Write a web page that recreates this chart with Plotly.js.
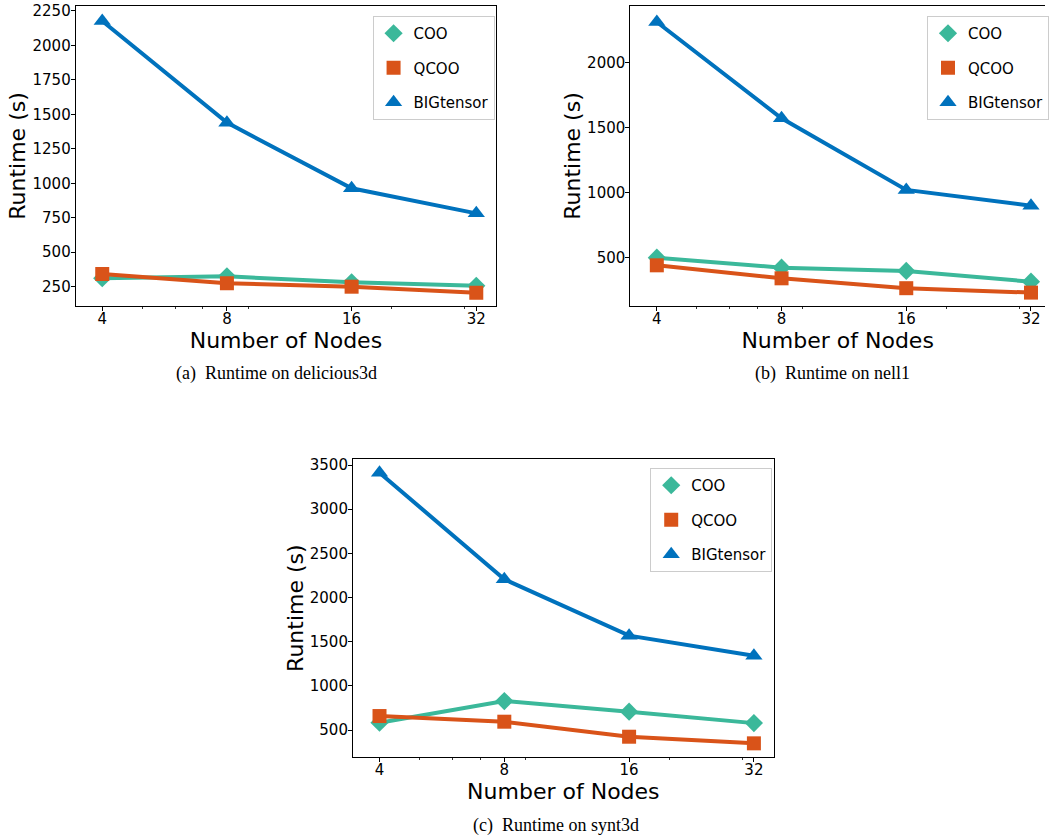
<!DOCTYPE html>
<html>
<head>
<meta charset="utf-8">
<script src="https://cdn.plot.ly/plotly-3.0.1.min.js"></script>
<style>html,body{margin:0;padding:0;background:#fff;}#chart{width:1049px;height:839px;}</style>
</head>
<body>
<div id="chart"></div>
<script>
// ---- data ----
const nodes = [4, 8, 16, 32];
const nodeLabels = ['4', '8', '16', '32'];
const seriesNames = ['COO', 'QCOO', 'BIGtensor'];

const delicious_coo  = [312, 325, 282, 257];
const delicious_qcoo = [342, 275, 250, 206];
const delicious_big  = [2177, 1440, 964, 782];

const nell_coo  = [497, 420, 395, 312];
const nell_qcoo = [438, 338, 262, 228];
const nell_big  = [2310, 1569, 1018, 897];

const synt_coo  = [583, 828, 707, 578];
const synt_qcoo = [658, 594, 424, 349];
const synt_big  = [3413, 2206, 1568, 1341];

const captions = ['(a)\u2002Runtime on delicious3d', '(b)\u2002Runtime on nell1', '(c)\u2002Runtime on synt3d'];

// ---- styling ----
const colors = ['#3bb89a', '#d95319', '#0072bd'];
const symbols = ['diamond', 'square', 'triangle-up'];
const sizes = [14, 14, 15];
const W = 1049, H = 839;
const font = 'DejaVu Sans, sans-serif';

const panels = [
  {data: [delicious_coo, delicious_qcoo, delicious_big], xa: 'x', ya: 'y', leg: 'legend'},
  {data: [nell_coo, nell_qcoo, nell_big], xa: 'x2', ya: 'y2', leg: 'legend2'},
  {data: [synt_coo, synt_qcoo, synt_big], xa: 'x3', ya: 'y3', leg: 'legend3'}
];

const traces = [];
panels.forEach((p, pi) => {
  p.data.forEach((vals, si) => {
    traces.push({
      x: nodes, y: vals, xaxis: p.xa, yaxis: p.ya,
      mode: 'lines+markers', showlegend: false, cliponaxis: false,
      line: {color: colors[si], width: 4},
      marker: {color: colors[si], symbol: symbols[si], size: sizes[si]},
      hoverinfo: 'x+y'
    });
  });
  seriesNames.forEach((nm, si) => {
    traces.push({
      x: [null], y: [null], xaxis: p.xa, yaxis: p.ya,
      mode: 'markers', name: nm, legend: p.leg, legendgroup: p.leg + nm,
      marker: {color: colors[si], symbol: symbols[si], size: sizes[si]},
      showlegend: true
    });
  });
});

function px2x(px) { return px / W; }
function px2y(py) { return 1 - py / H; }

function xaxis(domain, range) {
  return {
    domain: domain, type: 'log', range: range,
    tickmode: 'array', tickvals: nodes, ticktext: nodeLabels,
    ticks: 'outside', ticklen: 4, tickwidth: 1, tickcolor: '#000',
    ticklabelstandoff: -5,
    minor: {tickmode: 'array', tickvals: [5, 6, 7, 9, 20, 30], ticks: 'outside', ticklen: 2, tickwidth: 0.8, tickcolor: '#000', showgrid: false},
    showline: true, linecolor: '#000', linewidth: 1, mirror: true,
    showgrid: false, zeroline: false,
    tickfont: {family: font, size: 15, color: '#000'},
    title: {text: 'Number of Nodes', font: {family: font, size: 22, color: '#000'}, standoff: 2}
  };
}
function yaxis(domain, range, dtick, tick0, mirror) {
  return {
    domain: domain, range: range, dtick: dtick, tick0: tick0, tickmode: 'linear',
    ticks: 'outside', ticklen: 4, tickwidth: 1, tickcolor: '#000',
    ticklabelstandoff: -3,
    showline: true, linecolor: '#000', linewidth: 1, mirror: mirror,
    showgrid: false, zeroline: false,
    tickfont: {family: font, size: 15, color: '#000'},
    title: {text: 'Runtime (s)', font: {family: font, size: 22, color: '#000'}, standoff: 0}
  };
}
function legend(x, y) {
  return {
    x: x, y: y, xanchor: 'left', yanchor: 'top', xref: 'paper', yref: 'paper',
    bgcolor: '#fff', bordercolor: '#cccccc', borderwidth: 1,
    font: {family: font, size: 15, color: '#000'},
    tracegroupgap: 12, itemclick: false
  };
}

const layout = {
  width: W, height: H, margin: {l: 0, r: 0, t: 0, b: 0},
  paper_bgcolor: '#fff', plot_bgcolor: '#fff',
  showlegend: true,
  xaxis:  Object.assign(xaxis([px2x(76), px2x(498)], [0.538, 1.553]), {anchor: 'y'}),
  yaxis:  Object.assign(yaxis([px2y(306), px2y(6)], [110, 2286], 250, 250, true), {anchor: 'x'}),
  xaxis2: Object.assign(xaxis([px2x(632.7), 1], [0.538, 1.539]), {anchor: 'y2'}),
  yaxis2: Object.assign(yaxis([px2y(306), px2y(6)], [125, 2433], 500, 500, false), {anchor: 'x2'}),
  xaxis3: Object.assign(xaxis([px2x(354.3), px2x(776.7)], [0.538, 1.553]), {anchor: 'y3'}),
  yaxis3: Object.assign(yaxis([px2y(757.3), px2y(459)], [191, 3568], 500, 500, true), {anchor: 'x3'}),
  legend:  legend(px2x(374), px2y(16)),
  legend2: legend(px2x(930.7), px2y(16)),
  legend3: legend(px2x(652.7), px2y(468)),
  annotations: [
    {text: captions[0], x: px2x(277.5), y: px2y(373)},
    {text: captions[1], x: px2x(836), y: px2y(373)},
    {text: captions[2], x: px2x(558.5), y: px2y(825)}
  ].map(a => Object.assign(a, {xref: 'paper', yref: 'paper', xanchor: 'center', yanchor: 'middle', showarrow: false,
    font: {family: 'Liberation Serif, serif', size: 18, color: '#000'}}))
};

Plotly.newPlot('chart', traces, layout, {displayModeBar: false, staticPlot: true});
</script>
</body>
</html>
